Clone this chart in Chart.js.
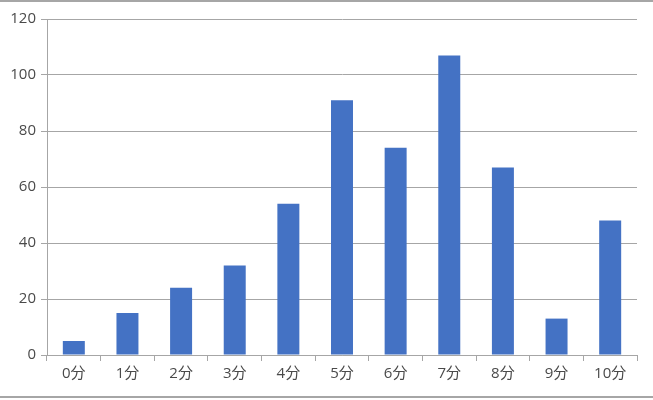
<!DOCTYPE html>
<html>
<head>
<meta charset="utf-8">
<script src="https://cdn.jsdelivr.net/npm/chart.js@4"></script>
<style>
html,body{margin:0;padding:0;background:#fff;}
#wrap{position:relative;width:653px;height:400px;overflow:hidden;}
.hl{position:absolute;left:0;width:653px;height:2px;background:#a6a6a6;}
</style>
</head>
<body>
<div id="wrap">
<canvas id="c" width="653" height="400"></canvas>
<div class="hl" style="top:0px"></div>
<div class="hl" style="top:396px"></div>
</div>
<script>
const categories = ["0分","1分","2分","3分","4分","5分","6分","7分","8分","9分","10分"];
const counts = [5, 15, 24, 32, 54, 91, 74, 107, 67, 13, 48];
const yTicks = [0, 20, 40, 60, 80, 100, 120];

const FONT = '"Open Sans", "Noto Sans CJK JP", sans-serif';
const GRID = '#a6a6a6';
const TXT = '#4a4a4a';

new Chart(document.getElementById('c'), {
  type: 'bar',
  data: {
    labels: categories,
    datasets: [{
      data: counts,
      backgroundColor: '#4472C4',
      borderWidth: 0,
      barPercentage: 0.41,
      categoryPercentage: 1.0
    }]
  },
  options: {
    responsive: false,
    animation: false,
    devicePixelRatio: 1,
    layout: { padding: { left: 0, top: 19, right: 16, bottom: 0 } },
    plugins: { legend: { display: false }, tooltip: { enabled: false } },
    scales: {
      x: {
        offset: true,
        grid: { display: true, offset: true, drawOnChartArea: false, drawTicks: true, tickLength: 6, color: GRID, lineWidth: 1 },
        border: { display: true, color: GRID, width: 1 },
        ticks: { color: TXT, font: { family: FONT, size: 15 }, padding: 4, maxRotation: 0 },
        afterFit: s => { s.height = 45; }
      },
      y: {
        min: 0, max: 120,
        afterBuildTicks: s => { s.ticks = yTicks.map(v => ({ value: v })); },
        grid: { display: true, drawTicks: true, tickLength: 6, color: GRID, lineWidth: 1 },
        border: { display: true, color: GRID, width: 1 },
        ticks: { color: TXT, font: { family: FONT, size: 15 }, padding: 5 },
        afterFit: s => { s.width = 47; }
      }
    }
  }
});
</script>
</body>
</html>
